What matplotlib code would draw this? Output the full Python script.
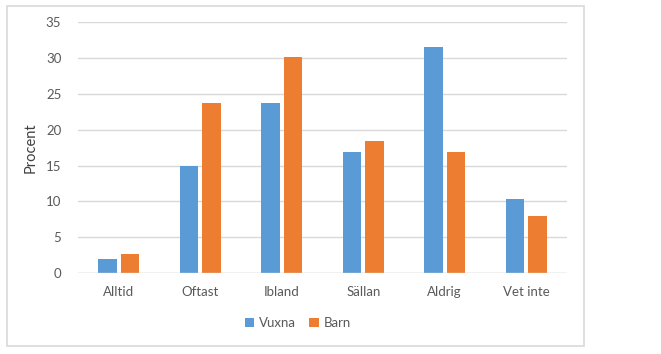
import matplotlib
matplotlib.use('Agg')
import matplotlib.pyplot as plt
import numpy as np
from matplotlib.patches import Rectangle

# data
categories = ['Alltid', 'Oftast', 'Ibland', 'Sällan', 'Aldrig', 'Vet inte']
vuxna = [1.9, 14.9, 23.8, 16.9, 31.6, 10.4]
barn = [2.7, 23.7, 30.1, 18.4, 16.9, 7.9]
y_ticks = [0, 5, 10, 15, 20, 25, 30, 35]

BLUE = '#5B9BD5'
ORANGE = '#ED7D31'
TEXT = '#595959'
GRID = '#D9D9D9'

plt.rcParams['font.family'] = ['Lato', 'DejaVu Sans']

fig = plt.figure(figsize=(6.61, 3.54), dpi=100)
ax = fig.add_axes([78 / 661, 1 - 273 / 354, (567 - 78) / 661, (273 - 22.3) / 354])

x = np.arange(len(categories))
w = 0.225
off = 0.14
ax.bar(x - off, vuxna, width=w, color=BLUE, label='Vuxna', zorder=3)
ax.bar(x + off, barn, width=w, color=ORANGE, label='Barn', zorder=3)

ax.set_xlim(-0.5, len(categories) - 0.5)
ax.set_ylim(0, 35)
ax.set_yticks(y_ticks)
ax.set_xticks(x)
ax.set_xticklabels(categories)
ax.tick_params(axis='both', length=0, colors=TEXT, labelsize=9.5)
ax.tick_params(axis='y', pad=12)
ax.tick_params(axis='x', pad=9)
ax.yaxis.grid(True, color=GRID, linewidth=1, zorder=0)
for s in ax.spines.values():
    s.set_visible(False)
ax.axhline(0, color=GRID, linewidth=1, zorder=4)

ax.set_ylabel('Procent', color='#404040', fontsize=10.5, labelpad=6)

leg = fig.legend(loc='center', bbox_to_anchor=(298 / 661, 1 - 323 / 354), ncol=2,
                 frameon=False, fontsize=9.5, handlelength=0.7, handleheight=0.7,
                 handletextpad=0.4, columnspacing=1.0)
for t in leg.get_texts():
    t.set_color(TEXT)

# chart border
fig.patches.append(Rectangle((6.5 / 661, 1 - 346 / 354), (584 - 6.5) / 661, (346 - 5.5) / 354,
                             transform=fig.transFigure, fill=False, edgecolor=GRID, linewidth=1.2))

plt.savefig('out.png', dpi=100)
